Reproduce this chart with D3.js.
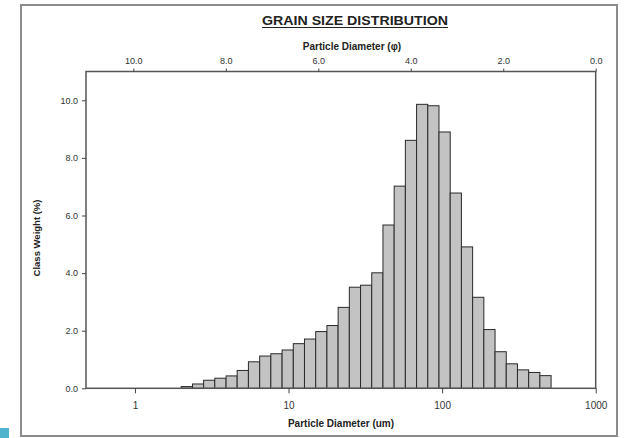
<!DOCTYPE html>
<html>
<head>
<meta charset="utf-8">
<script src="https://cdn.jsdelivr.net/npm/d3@7"></script>
<style>
  html, body { margin: 0; padding: 0; background: #fff; }
  svg { display: block; font-family: "Liberation Sans", Arial, sans-serif; }
</style>
</head>
<body>
<svg id="chart" width="626" height="438"></svg>
<script>
// ---- data ----
const binEdgesUm = [2.00, 2.37, 2.80, 3.31, 3.92, 4.63, 5.48, 6.49, 7.67, 9.08, 10.74,
  12.70, 15.03, 17.78, 21.03, 24.88, 29.43, 34.82, 41.19, 48.73, 57.64, 68.19,
  80.67, 95.43, 112.90, 133.56, 158.00, 186.91, 221.11, 261.58, 309.45, 366.08,
  433.07, 512.32];
const classWeight = [0.06, 0.15, 0.28, 0.35, 0.43, 0.62, 0.92, 1.12, 1.20, 1.33, 1.55,
  1.71, 1.97, 2.18, 2.81, 3.51, 3.58, 4.01, 5.67, 7.02, 8.61, 9.86, 9.81, 8.90,
  6.78, 4.91, 3.16, 2.04, 1.27, 0.85, 0.64, 0.55, 0.44];
const umTicks = [1, 10, 100, 1000];
const phiTicks = [10, 8, 6, 4, 2, 0];
const yTicks = [0, 2, 4, 6, 8, 10];
const titleText = "GRAIN SIZE DISTRIBUTION";
const topAxisTitle = "Particle Diameter (\u03c6)";
const bottomAxisTitle = "Particle Diameter (um)";
const yAxisTitle = "Class Weight (%)";

// ---- layout ----
const svg = d3.select("#chart");
const plotL = 86, plotR = 595.7, plotT = 71.5, plotB = 388.3;
const xMinUm = 0.48, xMaxUm = 1000;

const x = d3.scaleLog().domain([xMinUm, xMaxUm]).range([plotL, plotR]);
const phiOf = d => Math.log2(1000 / d);
const xPhi = d3.scaleLinear().domain([phiOf(xMinUm), phiOf(xMaxUm)]).range([plotL, plotR]);
const y = d3.scaleLinear().domain([0, 11]).range([plotB, plotT]);

// outer border
svg.append("rect").attr("x", 21).attr("y", 5).attr("width", 596).attr("height", 431)
  .attr("fill", "none").attr("stroke", "#8c8c8c").attr("stroke-width", 2);
svg.append("rect").attr("x", 0).attr("y", 428).attr("width", 9).attr("height", 10)
  .attr("fill", "#4fb4cc");

// bars
const bins = classWeight.map((v, i) => ({ x0: binEdgesUm[i], x1: binEdgesUm[i + 1], v }));
svg.append("g").selectAll("rect").data(bins).join("rect")
  .attr("x", d => x(d.x0))
  .attr("width", d => x(d.x1) - x(d.x0))
  .attr("y", d => y(d.v))
  .attr("height", d => y(0) - y(d.v))
  .attr("fill", "#c3c3c3")
  .attr("stroke", "#2a2a2a")
  .attr("stroke-width", 1);

// frame
svg.append("rect").attr("x", plotL).attr("y", plotT).attr("width", plotR - plotL).attr("height", plotB - plotT)
  .attr("fill", "none").attr("stroke", "#555").attr("stroke-width", 1.5);

function styleAxis(g) {
  g.select(".domain").remove();
  g.selectAll(".tick line").attr("stroke", "#444");
  g.selectAll(".tick text").attr("fill", "#333").style("font-size", "9px");
}

// bottom axis
svg.append("g").attr("transform", `translate(0,${plotB})`)
  .call(d3.axisBottom(x).tickValues(umTicks).tickFormat(d3.format("d")).tickSize(5).tickPadding(9))
  .call(styleAxis)
  .call(g => g.selectAll(".tick text").style("font-size", "10px"));

// top axis (phi)
svg.append("g").attr("transform", `translate(0,${plotT})`)
  .call(d3.axisTop(xPhi).tickValues(phiTicks).tickFormat(d3.format(".1f")).tickSize(3).tickPadding(5))
  .call(styleAxis);

// left axis
svg.append("g").attr("transform", `translate(${plotL},0)`)
  .call(d3.axisLeft(y).tickValues(yTicks).tickFormat(d3.format(".1f")).tickSize(4).tickPadding(4))
  .call(styleAxis);

// titles
svg.append("text").attr("x", 355).attr("y", 25).attr("text-anchor", "middle")
  .attr("font-weight", "bold").attr("font-size", 13).attr("fill", "#222")
  .attr("textLength", 186).attr("lengthAdjust", "spacingAndGlyphs").text(titleText);
svg.append("line").attr("x1", 262).attr("x2", 448).attr("y1", 27.5).attr("y2", 27.5)
  .attr("stroke", "#222").attr("stroke-width", 1.2);

svg.append("text").attr("x", 352).attr("y", 50).attr("text-anchor", "middle")
  .attr("font-weight", "bold").attr("font-size", 10).attr("fill", "#222").text(topAxisTitle);

svg.append("text").attr("x", 341).attr("y", 427).attr("text-anchor", "middle")
  .attr("font-weight", "bold").attr("font-size", 10).attr("fill", "#222").text(bottomAxisTitle);

svg.append("text").attr("transform", "translate(40,238) rotate(-90)").attr("text-anchor", "middle")
  .attr("font-weight", "bold").attr("font-size", 9.5).attr("fill", "#222").text(yAxisTitle);
</script>
</body>
</html>
